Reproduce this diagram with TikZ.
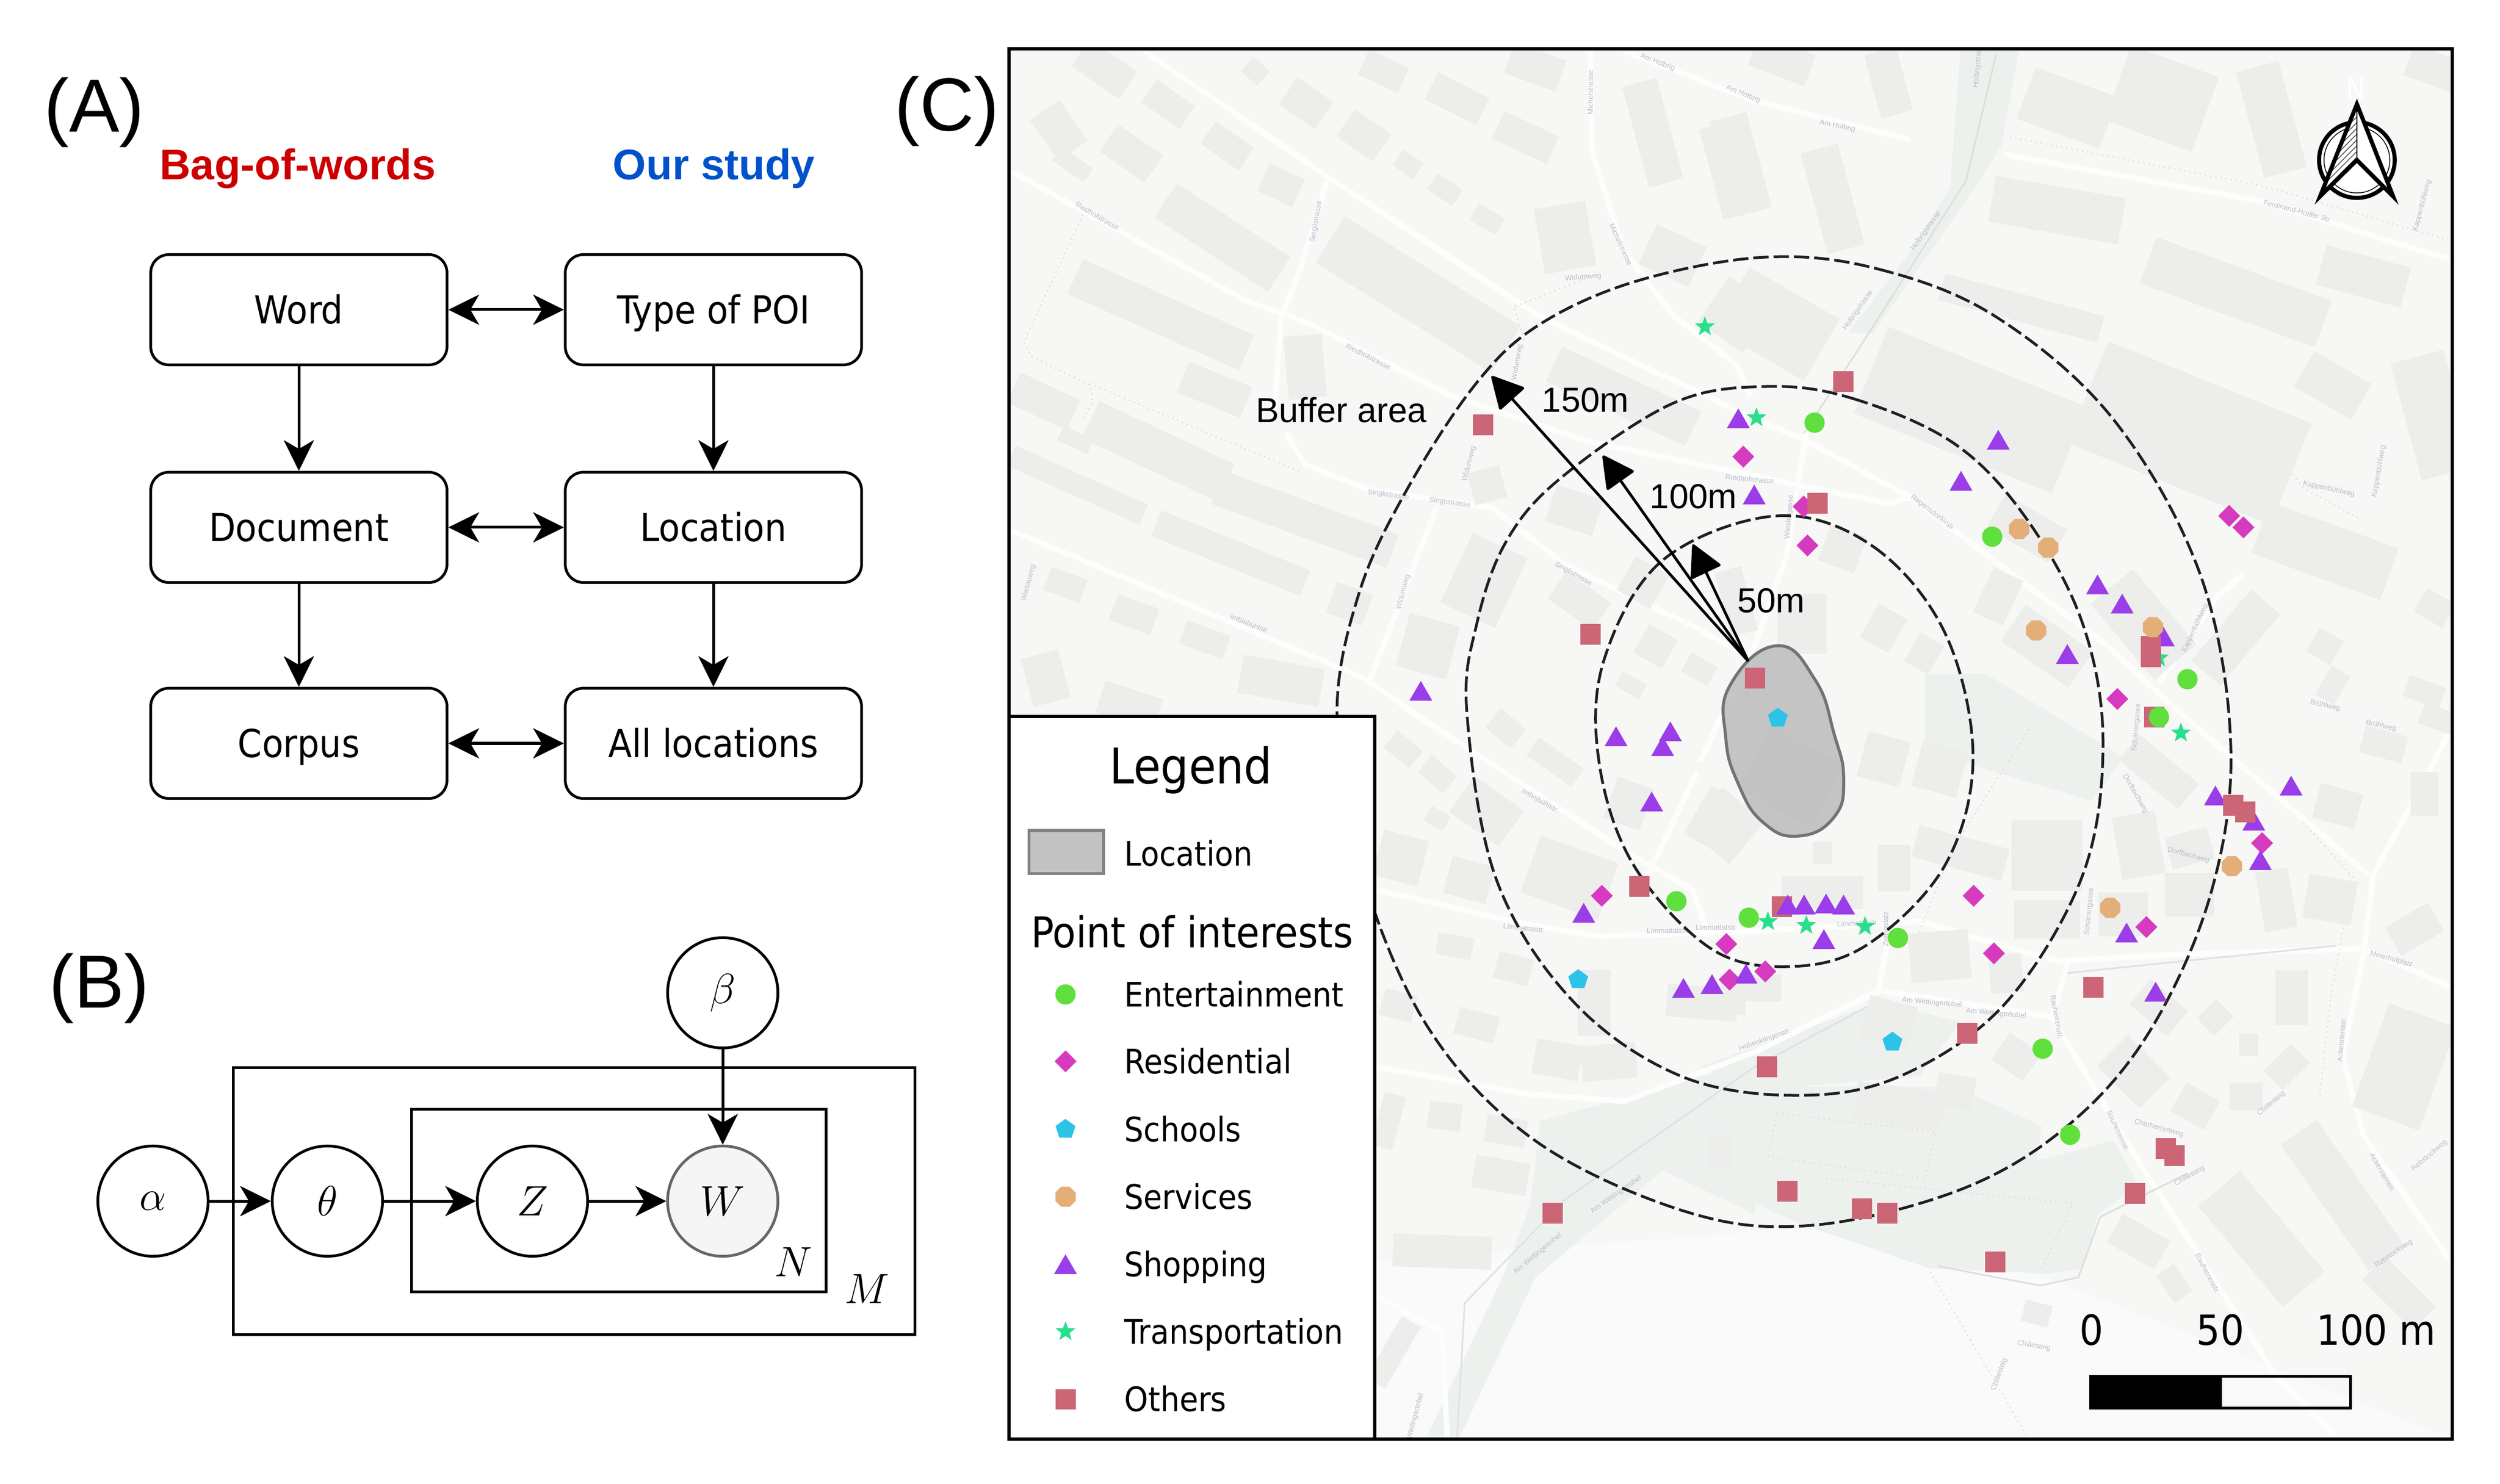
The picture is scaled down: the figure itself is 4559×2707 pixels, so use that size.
\documentclass[tikz,border=0pt]{standalone}
\usepackage{fix-cm}
\usepackage{amsmath}
\usepackage{fontspec}
\setmainfont{Liberation Sans}
\newfontfamily\boxfont{DejaVu Sans Condensed}
\usepackage{xcolor}
\usetikzlibrary{shapes.geometric, arrows.meta, patterns}

\definecolor{mapcol}{HTML}{F7F7F6}
\definecolor{bldgcol}{HTML}{EDEDEC}
\definecolor{greencol}{HTML}{EDF1EE}
\definecolor{lanecol}{HTML}{DEDEDC}
\definecolor{streamcol}{HTML}{DDE2E4}
\definecolor{streetcol}{HTML}{B7C0CB}
\definecolor{entcol}{HTML}{5FE03C}
\definecolor{rescol}{HTML}{D63BBF}
\definecolor{schcol}{HTML}{2BC4E8}
\definecolor{srvcol}{HTML}{E3AE78}
\definecolor{shpcol}{HTML}{9B3DE8}
\definecolor{trncol}{HTML}{2ADF8B}
\definecolor{othcol}{HTML}{CC6677}

\tikzset{
  capcenter/.style={text height=#1, text depth=0pt},
  wordbox/.style={draw, rounded corners=.33cm, line width=.05cm, minimum width=5.4cm, inner sep=0pt,
    minimum height=2.01cm, capcenter=14.5pt, font={\boxfont\fontsize{20}{24}\selectfont}},
  flow/.style={line width=.05cm, -{Stealth[length=.56cm,width=.55cm,inset=.16cm]}},
  both/.style={line width=.05cm, {Stealth[length=.56cm,width=.55cm,inset=.16cm]}-{Stealth[length=.56cm,width=.55cm,inset=.16cm]}},
  var/.style={draw, circle, line width=.05cm, minimum size=2.01cm, inner sep=0pt,
    font={\fontsize{22}{26}\selectfont}},
  plate/.style={line width=.05cm},
  panel/.style={font={\fontsize{39}{46}\selectfont}},
  head/.style={capcenter=15.9pt, inner sep=0pt, font={\bfseries\fontsize{22.2}{26}\selectfont}},
  road/.style={draw=white!70!mapcol, line width=.1cm, line join=round},
  lane/.style={draw=lanecol, line width=.025cm, dotted},
  bldg/.style={fill=bldgcol},
  street/.style={text=streetcol, inner sep=0pt, font={\fontsize{3.8}{4}\selectfont}},
  ring/.style={draw=black!88, line width=.05cm, dash pattern=on .28cm off .09cm},
  radius/.style={line width=.05cm, -{Triangle[length=.6cm,width=.62cm,round]}},
  maptext/.style={inner sep=0pt, font={\fontsize{18}{22}\selectfont}},
  legtext/.style={inner sep=0pt, anchor=west, capcenter=12.8pt, font={\boxfont\fontsize{17.5}{21}\selectfont}},
  poi/.style={inner sep=0pt, outer sep=0pt, draw=none},
  entpoi/.style={poi, shape=circle, fill=entcol, minimum size=.37cm},
  respoi/.style={poi, shape=diamond, fill=rescol, minimum size=.4cm},
  schpoi/.style={poi, regular polygon, regular polygon sides=5, fill=schcol, minimum size=.38cm},
  srvpoi/.style={poi, regular polygon, regular polygon sides=8, fill=srvcol, minimum size=.4cm},
  shppoi/.style={poi, regular polygon, regular polygon sides=3, fill=shpcol, minimum size=.48cm, yshift=-.06cm},
  trnpoi/.style={poi, star, star points=5, star point ratio=2.4, fill=trncol, minimum size=.38cm},
  othpoi/.style={poi, shape=rectangle, fill=othcol, minimum size=.37cm},
}

\begin{document}
\begin{tikzpicture}[x=.01cm, y=-.01cm]
\useasboundingbox (0,0) rectangle (4559,2707);

% Panel A
\node[panel] (labA) at (172,205) {(A)};
\node[head, text=red!80!black] (bagHead) at (543,300) {Bag-of-words};
\node[head, text=blue!60!cyan!80!black] (ourHead) at (1302,300) {Our study};
\node[wordbox] (word) at (545,565) {Word};
\node[wordbox] (document) at (545,962) {Document};
\node[wordbox] (corpus) at (545,1356) {Corpus};
\node[wordbox] (poitype) at (1301,565) {Type of POI};
\node[wordbox] (location) at (1301,962) {Location};
\node[wordbox] (allloc) at (1301,1356) {All locations};
\draw[flow] (word) -- (document);
\draw[flow] (document) -- (corpus);
\draw[flow] (poitype) -- (location);
\draw[flow] (location) -- (allloc);
\draw[both] (word) -- (poitype);
\draw[both] (document) -- (location);
\draw[both] (corpus) -- (allloc);

% Panel B
\node[panel] (labB) at (181,1803) {(B)};
\draw[plate] (425,1947) rectangle (1668,2434);
\draw[plate] (750,2023) rectangle (1506,2356);
\node[var] (alpha) at (279,2191) {$\alpha$};
\node[var] (theta) at (597,2191) {$\theta$};
\node[var] (zed) at (971,2191) {$Z$};
\node[var, fill=black!4, draw=black!60] (wnode) at (1318,2191) {$W$};
\node[var] (beta) at (1318,1811) {$\beta$};
\node[inner sep=0pt, font={\fontsize{22}{26}\selectfont}] (nlab) at (1447,2302) {$N$};
\node[inner sep=0pt, font={\fontsize{22}{26}\selectfont}] (mlab) at (1581,2351) {$M$};
\draw[flow] (alpha) -- (theta);
\draw[flow] (theta) -- (zed);
\draw[flow] (zed) -- (wnode);
\draw[flow] (beta) -- (wnode);

% Panel C
\node[panel] (labC) at (1727,203) {(C)};
\begin{scope}
\clip (1840,89) rectangle (4472,2625);
\fill[mapcol] (1840,89) rectangle (4472,2625);
\fill[white!40!mapcol] (2510,2300) -- (3290,2240) -- (3730,2330) -- (4472,2625) -- (2510,2625) -- cycle;

% green areas
\fill[greencol] (3575,93) -- (3682,93) -- (3649,267) -- (3602,342) -- (3416,607) -- (3370,607) -- (3491,450) -- (3556,342) -- cycle;
\fill[greencol] (3510,1230) -- (3621,1229) -- (3872,1381) -- (3816,1461) -- (3510,1370) -- cycle;
\fill[greencol] (3100,1946) -- (3426,1829) -- (3509,1847) -- (3575,1865) -- (3500,1964) -- (3380,1973) -- (3200,1990) -- cycle;
\fill[greencol] (3100,2152) -- (3193,1982) -- (3565,1982) -- (3723,2054) -- (3714,2117) -- (3854,2081) -- (3900,2161) -- (3826,2215) -- (3798,2314) -- (3733,2323) -- (3519,2314) -- (3286,2233) -- cycle;
\fill[greencol] (2809,2045) -- (3200,1937) -- (3200,2215) -- (3032,2135) -- (2800,2330) -- (2660,2625) -- (2600,2625) -- (2740,2330) -- (2790,2200) -- cycle;

% roads
\draw[road] (2086,93) -- (2425,325) -- (2809,578) -- (3200,765) -- (3286,800) -- (3482,906) -- (3844,1179) -- (3975,1300) -- (4319,1596);
\draw[road] (1845,313) -- (2273,549) -- (2389,591) -- (2648,723) -- (2898,806) -- (3200,868) -- (3240,877) -- (3444,918) -- (3482,906);
\draw[road] (2345,790) -- (2380,848) -- (2496,893) -- (2720,926) -- (2854,1030) -- (3095,1146) -- (3200,1204);
\draw[road] (1845,968) -- (2488,1237) -- (2577,1300) -- (2961,1551) -- (3086,1623) -- (3110,1690);
\draw[road] (2510,1623) -- (2782,1686) -- (2916,1708) -- (3200,1699) -- (3500,1681) -- (3751,1753) -- (3993,1740) -- (4310,1731) -- (4472,1802);
\draw[road] (4310,1740) -- (4328,1596) -- (4472,1327);
\draw[road] (4310,1740) -- (4272,1928) -- (4310,2072) -- (4472,2305);
\draw[road] (3770,1758) -- (3742,1856) -- (3882,2090) -- (4151,2511) -- (4263,2625);
\draw[road] (2510,1946) -- (2782,1995) -- (2961,2009) -- (3200,1919) -- (3426,1807) -- (3751,1856);
\draw[road] (2900,93) -- (2903,276) -- (2961,458) -- (3050,574) -- (3166,665) -- (3193,723);
\draw[road] (2961,93) -- (3200,184) -- (3482,255);
\draw[road] (3655,282) -- (4124,367) -- (4472,475);
\draw[road] (3295,781) -- (3258,1014) -- (3202,1171) -- (3100,1390);
\draw[road] (2420,330) -- (2371,491) -- (2336,582) -- (2322,773);
\draw[road] (2621,922) -- (2496,1246);
\draw[road] (3005,1596) -- (3095,1408);
\draw[road] (3426,1802) -- (3449,1686);
\draw[road] (4091,1047) -- (4044,1088) -- (3937,1246);
\draw[road] (2510,2363) -- (2630,2430) -- (2639,2625);
\draw[draw=streamcol, line width=.03cm] (2657,2625) -- (2671,2377) -- (2854,2188) -- (3200,1946) -- (3426,1825);
\draw[draw=streamcol, line width=.03cm] (3770,1775) -- (3993,1752) -- (4260,1725);
\draw[draw=lanecol, line width=.03cm] (3535,2310) -- (3720,2345) -- (3790,2330) -- (3830,2220) -- (3990,2140);
\draw[draw=lanecol, line width=.03cm] (3640,100) -- (3585,330) -- (3400,620) -- (3290,790);

% foot paths
\draw[lane] (1979,383) -- (1867,624) -- (1880,649) -- (1988,703) -- (1992,732) -- (1974,769);
\draw[lane] (1988,700) -- (2370,860);
\draw[lane] (2780,620) -- (2760,560) -- (2900,505);
\draw[lane] (3665,250) -- (4130,340) -- (4472,440);
\draw[lane] (3240,2030) -- (3530,2065) -- (3510,2150) -- (3225,2110) -- cycle;
\draw[lane] (3330,2150) -- (3780,2195) -- (3720,2320);
\draw[lane] (3520,2320) -- (3700,2625);
\draw[lane] (4200,1500) -- (4290,1600) -- (4250,1820) -- (4230,2000);
\draw[lane] (3500,1700) -- (3560,1550) -- (3700,1330);
\draw[lane] (3850,650) -- (4130,800) -- (4200,890) -- (4310,950);

% buildings as cx/cy/width/height/angle
\foreach \bx/\by/\bw/\bh/\ba in {
  2014/126/105/60/-35, 2130/190/85/50/-35, 2238/266/85/50/-35, 1931/238/90/65/-55,
  2063/280/100/60/-35, 1956/300/70/30/-35, 2382/188/80/60/-35, 2523/130/80/50/-25,
  2657/180/105/55/-27, 2487/247/80/60/-35, 2782/251/110/55/-25, 2568/300/45/35/-35,
  2635/346/55/35/-35, 2712/400/55/35/-30, 2336/338/70/55/-25, 2289/130/40/35/-40,
  2229/433/247/75/-33, 2117/574/342/70/-24, 2586/537/378/100/-32, 2215/711/125/60/-22,
  2380/669/70/115/5, 2112/823/272/75/-25, 1903/732/120/60/-25, 1961/802/60/30/-25,
  1965/885/264/40/-24, 2380/947/340/65/-20, 2244/1009/293/50/-22, 2854/433/95/120/10,
  3050/466/100/80/-25, 2961/723/280/70/-25, 2712/885/60/60/15, 2871/931/90/70/-18,
  2706/1059/110/140/-25, 1943/1067/70/45/-20, 2068/1121/80/50/-20, 2197/1167/85/45/-20,
  1907/1237/70/90/15, 2336/1242/150/70/-10, 2059/1287/110/60/-18, 2461/1101/70/60/-20,
  2604/1179/95/100/-15, 2880/1096/100/60/-35, 2996/1063/70/70/-30, 3019/1179/60/60/-30,
  2746/1329/60/45/-40, 2974/1250/50/30/-30, 3099/1221/55/40/-30, 3166/1097/50/120/15,
  3157/309/75/170/15, 3014/242/65/190/15, 2800/122/100/60/-20, 3166/574/100/100/-35,
  3249/110/110/60/-20, 3444/151/60/120/15, 3174/300/70/180/15, 3342/363/70/190/15,
  3770/197/160/100/-20, 3942/180/170/145/-20, 4142/218/80/200/15, 4440/126/100/60/-20,
  3751/383/240/85/-10, 4077/533/340/90/-20, 4310/504/160/75/-15, 4436/757/100/220/15,
  4254/703/120/75/-30, 3686/562/300/50/-15, 3240/591/190/130/-30, 3593/748/390/170/-22,
  3993/790/400/200/-22, 4240/1005/250/100/-20, 4440/1109/60/50/-30, 4240/1179/50/50/-30,
  4421/1262/70/40/-20, 3696/964/130/70/-30, 3644/1088/60/90/-25, 3360/1001/70/70/-20,
  3435/1146/60/70/-30, 3286/1138/90/110/0, 3509/1192/50/60/-30, 3733/1179/150/80/-35,
  3909/1139/180/100/-50, 4077/1163/70/170/-40, 4449/1312/70/40/-20, 4254/1250/40/60/-30,
  3435/1385/80/85/-15, 3537/1403/85/85/-15, 3267/1417/150/130/-30, 3147/1506/100/100/-40,
  3323/1556/35/40/0, 3454/1583/60/85/0, 3575/1556/170/60/-15, 3733/1560/130/130/0,
  3937/1408/140/60/-40, 3900/1542/80/115/10, 3993/1547/80/60/15, 4151/1641/60/110/10,
  4249/1641/90/80/-10, 3993/1632/90/80/0, 3872/1668/90/80/0, 3323/1628/150/60/0,
  3733/1677/120/70/0, 3537/1744/110/90/5, 3658/1776/60/70/5, 3193/1802/110/50/0,
  3128/1829/110/45/0, 3444/1865/90/80/-15, 3677/1928/70/60/-35, 3891/1955/80/110/45,
  4003/2018/70/60/-30, 4096/2000/60/50/0, 4040/1856/50/45/45, 4100/1906/35/40/0,
  4179/1820/60/100/0, 4170/1946/70/50/45, 3937/1838/90/60/-40, 4263/1470/80/65/-15,
  4347/1358/80/50/-15, 4421/1448/50/80/0, 4403/1695/90/60/30, 4384/1946/130/200/-20,
  4124/2260/240/100/-50, 4272/2180/280/80/-55, 3900/2265/100/60/-30, 3965/2341/60/40/-55,
  3714/2396/50/40/-15, 3565/1991/70/60/-10, 3463/2018/160/70/-8, 3137/2099/40/60/0,
  4375/2359/130/60/-45, 2559/1367/60/40/-40, 2621/1412/60/40/-40, 2836/1390/100/40/-35,
  2711/1480/110/80/-35, 2621/1493/40/30/-30, 2554/1565/85/85/-15, 2679/1605/80/70/-15,
  2862/1601/150/110/-20, 2970/1466/70/80/-20, 3130/1497/80/100/-30, 2653/1726/65/40/-10,
  2760/1767/65/50/-15, 2550/1834/60/50/-15, 2693/1870/75/50/-15, 2840/1933/85/65/-10,
  2934/1937/100/65/5, 2907/1829/60/120/0, 3104/1829/130/60/-5, 2532/2045/40/100/-15,
  2635/2036/60/50/-8, 2746/2063/75/50/-10, 2737/2144/100/60/-10, 2630/2283/180/60/-2,
  2541/2467/40/130/-30}
  \fill[bldg, shift={(\bx,\by)}, rotate=\ba] (-\bw/2,-\bh/2) rectangle (\bw/2,\bh/2);

% street names
\foreach \sx/\sy/\sa/\stxt [count=\i] in {
  2001/394/-30/Riedhofstrasse, 2495/650/-27/Riedhofstrasse, 3191/874/-5/Riedhofstrasse,
  2400/404/80/Singlistrasse, 2532/903/-8/Singlistrasse, 2644/917/-8/Singlistrasse,
  2869/1047/-30/Singlistrasse, 2900/169/90/Michelstrasse, 2956/446/-65/Michelstrasse,
  2887/506/5/Widumweg, 2767/661/80/Widumweg, 2679/846/75/Widumweg, 2559/1080/75/Widumweg,
  3023/114/-22/Am Holbrig, 3179/172/-22/Am Holbrig, 3351/230/-12/Am Holbrig,
  3607/118/85/Holbrigstrasse, 3512/421/55/Holbrigstrasse, 3388/566/55/Holbrigstrasse,
  4190/385/-15/Ferdinand-Hodler Str., 4417/375/75/Kappenbühlweg, 4247/892/-12/Kappenbühlweg,
  4338/860/80/Kappenbühlweg, 4003/1146/65/Kappenbühlweg, 3525/936/-38/Regensdorferstr.,
  3263/943/85/Wieslergasse, 1876/1063/75/Wartauweg, 2279/1138/-22/Imbisbühlstr.,
  2809/1460/-30/Imbisbühlstr., 2779/1693/-6/Limmattalstr., 3041/1698/0/Limmattalstr.,
  3130/1692/0/Limmattalstr., 3388/1684/3/Limmattalstr., 3219/1897/20/Hohenklingenstr.,
  3523/1829/-5/Am Wettingertobel, 3640/1849/-5/Am Wettingertobel, 2947/2179/35/Am Wettingertobel,
  2804/2287/40/Am Wettingertobel, 2581/2583/75/Wettingertobel, 3751/1855/-80/Bauherrenstr.,
  3863/2063/-65/Bauherrenstr., 4026/2323/-62/Bauherrenstr., 3937/2058/-15/Chorherrenweg,
  4142/2013/40/Chillesteig, 3993/2145/30/Chillesteig, 3709/2455/-10/Chillesteig,
  3646/2507/70/Chillesteig, 4270/1897/85/Ackersteinstr., 4345/2139/-60/Ackersteinstr.,
  4361/1750/-15/Meierhofplatz, 3894/1448/-60/Dorfbachweg, 3991/1560/-15/Dorfbachweg,
  3810/1663/85/Schärrergasse, 3896/1327/85/Schärrergasse, 4240/1287/-12/Brühlweg,
  4342/1324/-12/Brühlweg, 4365/2287/35/Rebstockweg, 4430/2108/40/Rebstockweg, 3440/1695/90/Zwingplatz}
  \node[street, rotate=\sa] (street\i) at (\sx,\sy) {\stxt};

% location and buffer rings
\filldraw[fill=black!28, fill opacity=.8, draw=black!55, line width=.055cm] plot[smooth cycle, tension=.8] coordinates {
  (3240,1178) (3310,1240) (3345,1340) (3362,1420) (3345,1490) (3280,1525) (3215,1500) (3170,1430) (3147,1345) (3155,1250)};
\draw[ring] plot[smooth cycle, tension=.6] coordinates {
  (3221,469) (3426,491) (3640,578) (3854,765) (4012,1047) (4068,1360) (4031,1632) (3919,1883) (3770,2054) (3575,2170) (3305,2235)
  (3077,2211) (2800,2081) (2604,1874) (2480,1580) (2438,1304) (2479,1080) (2568,889) (2693,698) (2809,591) (2987,512)};
\draw[ring] plot[smooth cycle, tension=.6] coordinates {
  (3221,705) (3379,727) (3565,810) (3696,947) (3798,1138) (3835,1354) (3798,1596) (3658,1829) (3472,1960) (3286,1998)
  (3068,1964) (2871,1829) (2729,1605) (2675,1300) (2693,1138) (2746,989) (2845,873) (3050,736)};
\draw[ring] plot[smooth cycle, tension=.6] coordinates {
  (3240,941) (3416,997) (3547,1155) (3598,1381) (3547,1578) (3407,1722) (3267,1763) (3121,1731) (2979,1578) (2916,1390) (2925,1204) (3032,1022)};

% points of interest
\foreach \x/\y [count=\i] in {3179/833, 3289/924, 3296/995, 4065/941, 4091/962, 3861/1275, 2921/1634, 3148/1722, 3154/1787,
  3219/1772, 3599/1634, 3636/1739, 3914/1691, 4125/1538}
  \node[respoi] (res\i) at (\x,\y) {};
\foreach \x/\y [count=\i] in {3109/596, 3203/762, 3937/1200, 3977/1337, 3224/1681, 3294/1688, 3401/1690}
  \node[trnpoi] (trn\i) at (\x,\y) {};
\node[othpoi] (othA) at (3249,1654) {};
\foreach \x/\y [count=\i] in {2591/1260, 3170/763, 3199/902, 3644/802, 3576/877, 3825/1066, 3870/1101, 3945/1161, 3770/1193,
  2947/1343, 3046/1334, 3032/1361, 3012/1462, 2888/1665, 3070/1802, 3122/1795, 3184/1776, 3260/1650, 3290/1650,
  3330/1648, 3362/1650, 3326/1713, 3878/1701, 3931/1809, 4040/1451, 4110/1497, 4178/1433, 4122/1569}
  \node[shppoi] (shp\i) at (\x,\y) {};
\foreach \x/\y [count=\i] in {2704/775, 2900/1157, 3361/696, 3314/918, 3200/1237, 3922/1179, 3922/1198, 3928/1308, 2989/1617,
  4072/1469, 4094/1481, 3817/1801, 3587/1885, 3222/1946, 3949/2095, 3965/2108, 3893/2177, 3259/2173, 3395/2205,
  3441/2213, 3638/2302, 2831/2213}
  \node[othpoi] (oth\i) at (\x,\y) {};
\foreach \x/\y [count=\i] in {3682/965, 3735/999, 3713/1150, 3926/1144, 4070/1580, 3848/1656}
  \node[srvpoi] (srv\i) at (\x,\y) {};
\foreach \x/\y [count=\i] in {3242/1310, 2878/1787, 3451/1901}
  \node[schpoi] (sch\i) at (\x,\y) {};
\foreach \x/\y [count=\i] in {3309/771, 3633/979, 3989/1239, 3937/1308, 3057/1644, 3189/1674, 3461/1711, 3725/1913, 3775/2070}
  \node[entpoi] (ent\i) at (\x,\y) {};

% radii
\coordinate (origin) at (3188,1206);
\coordinate (tipL) at (2720,686);
\coordinate (tipM) at (2923,831);
\coordinate (tipS) at (3087,993);
\draw[radius] (origin) -- (tipL);
\draw[radius] (origin) -- (tipM);
\draw[radius] (origin) -- (tipS);
\node[maptext] (bufferlab) at (2446,748) {Buffer area};
\node[maptext] (lab150) at (2891,730) {150m};
\node[maptext] (lab100) at (3088,906) {100m};
\node[maptext] (lab50) at (3230,1096) {50m};

% north arrow
\draw[line width=.075cm, fill=white] (4298,292) circle (69);
\draw[line width=.015cm] (4298,292) circle (60);
\fill[white] (4298,190) -- (4231,358) -- (4298,292) -- (4364,358) -- cycle;
\fill[pattern=north east lines, pattern color=black!70] (4298,190) -- (4231,358) -- (4298,292) -- cycle;
\draw[line width=.075cm, line join=miter] (4298,190) -- (4231,358) -- (4298,292) -- (4364,358) -- cycle;
\draw[line width=.015cm] (4298,190) -- (4298,292);
\node[inner sep=0pt, text=white, font={\boxfont\fontsize{15}{18}\selectfont}] (northlab) at (4296,161) {N};

% scale bar
\fill (3812,2510) rectangle (4052,2568);
\draw[line width=.05cm] (3812,2510) rectangle (4286,2568);
\node[inner sep=0pt, font={\boxfont\fontsize{21.5}{26}\selectfont}] (scale0) at (3814,2426) {0};
\node[inner sep=0pt, font={\boxfont\fontsize{21.5}{26}\selectfont}] (scale50) at (4049,2426) {50};
\node[inner sep=0pt, font={\boxfont\fontsize{21.5}{26}\selectfont}] (scale100) at (4333,2426) {100 m};
\end{scope}

% legend
\draw[line width=.06cm, fill=white] (1840,1307) rectangle (2507,2625);
\draw[line width=.06cm] (1840,89) rectangle (4472,2625);
\node[inner sep=0pt, capcenter=18.6pt, font={\boxfont\fontsize{25.5}{30}\selectfont}] (legtitle) at (2172,1397) {Legend};
\filldraw[fill=black!24, draw=black!50, line width=.05cm] (1876,1515) rectangle (2012,1593);
\node[legtext] (legloc) at (2050,1557) {Location};
\node[inner sep=0pt, capcenter=16pt, font={\boxfont\fontsize{22}{26}\selectfont}] (legpoi) at (2174,1700) {Point of interests};
\node[entpoi] (mkEnt) at (1943,1814) {};
\node[legtext] (txtEnt) at (2050,1814) {Entertainment};
\node[respoi] (mkRes) at (1943,1936) {};
\node[legtext] (txtRes) at (2050,1936) {Residential};
\node[schpoi] (mkSch) at (1943,2060) {};
\node[legtext] (txtSch) at (2050,2060) {Schools};
\node[srvpoi] (mkSrv) at (1943,2183) {};
\node[legtext] (txtSrv) at (2050,2183) {Services};
\node[shppoi] (mkShp) at (1943,2306) {};
\node[legtext] (txtShp) at (2050,2306) {Shopping};
\node[trnpoi] (mkTrn) at (1943,2429) {};
\node[legtext] (txtTrn) at (2050,2429) {Transportation};
\node[othpoi] (mkOth) at (1943,2552) {};
\node[legtext] (txtOth) at (2050,2552) {Others};
\end{tikzpicture}
\end{document}
